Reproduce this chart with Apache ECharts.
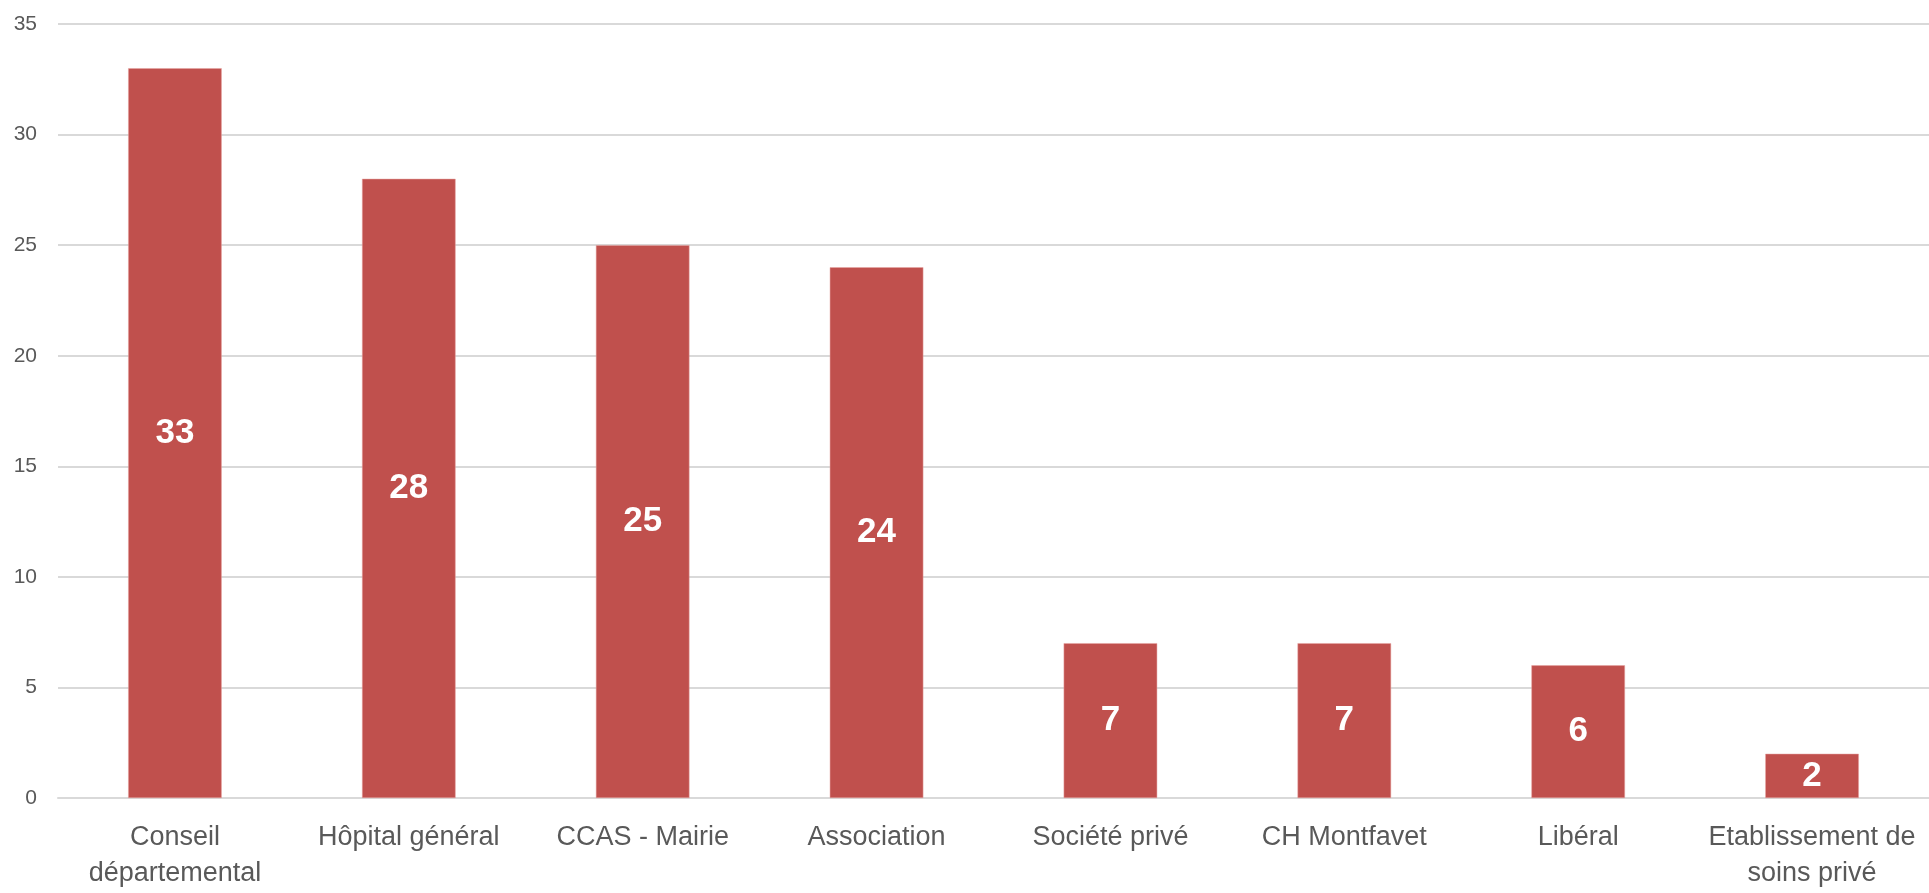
<!DOCTYPE html>
<html>
<head>
<meta charset="utf-8">
<script src="https://cdn.jsdelivr.net/npm/echarts@6/dist/echarts.min.js"></script>
<style>html,body{margin:0;padding:0;background:#fff;}#c{width:1929px;height:893px;}</style>
</head>
<body>
<div id="c"></div>
<script>
const categories = ["Conseil\ndépartemental", "Hôpital général", "CCAS - Mairie", "Association", "Société privé", "CH Montfavet", "Libéral", "Etablissement de\nsoins privé"];
const values = [33, 28, 25, 24, 7, 7, 6, 2];
const yTicks = [0, 5, 10, 15, 20, 25, 30, 35];

const FONT = 'Liberation Sans, Arial, sans-serif';
const chart = echarts.init(document.getElementById('c'), null, {renderer: 'canvas'});
chart.setOption({
  animation: false,
  grid: {left: 58, top: 24, width: 1882, bottom: 95, containLabel: false},
  xAxis: {
    type: 'category',
    data: categories,
    axisLine: {show: true, lineStyle: {color: '#d9d9d9', width: 2}},
    axisTick: {show: false},
    axisLabel: {color: '#595959', fontFamily: FONT, fontSize: 27, lineHeight: 36, margin: 22, interval: 0}
  },
  yAxis: {
    type: 'value',
    min: yTicks[0],
    max: yTicks[yTicks.length - 1],
    interval: yTicks[1] - yTicks[0],
    axisLine: {show: false},
    axisTick: {show: false},
    splitLine: {lineStyle: {color: '#d9d9d9', width: 2}},
    axisLabel: {color: '#595959', fontFamily: FONT, fontSize: 21, margin: 21}
  },
  series: [{
    type: 'bar',
    data: values,
    barWidth: '40%',
    itemStyle: {color: '#c0504d', borderColor: '#e6a5a3', borderWidth: 0.5},
    label: {
      show: true,
      position: 'inside',
      color: '#ffffff',
      fontFamily: FONT,
      fontWeight: 'bold',
      fontSize: 35
    }
  }]
});
</script>
</body>
</html>
